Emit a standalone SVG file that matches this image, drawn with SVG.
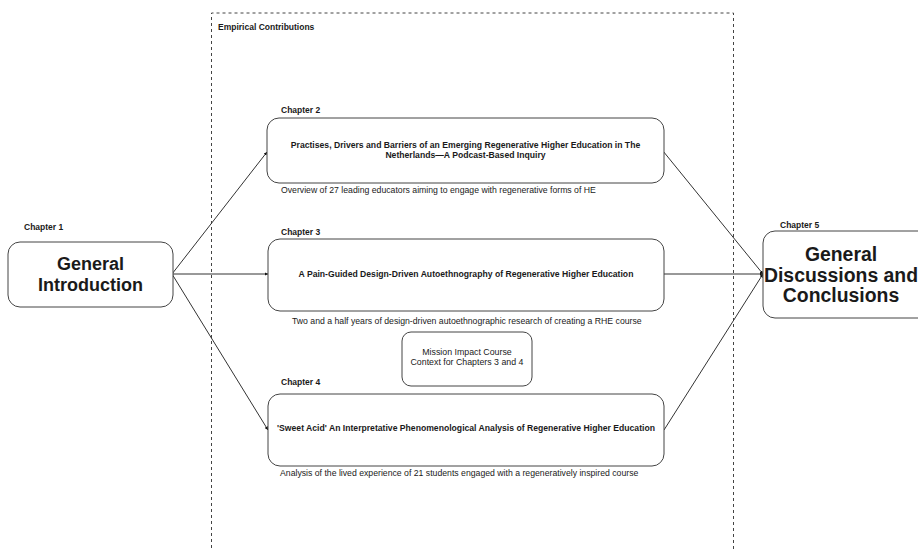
<svg xmlns="http://www.w3.org/2000/svg" width="918" height="550" viewBox="0 0 918 550">
<style>
text{font-family:"Liberation Sans",Arial,sans-serif;fill:#1a1a1a}
.lbl{font-size:8.5px;font-weight:bold}
.box{fill:#fff;stroke:#444;stroke-width:1}
.t{font-size:8.65px;font-weight:bold;text-anchor:middle}
.cap{font-size:8.7px}
.mid{font-size:8.8px;text-anchor:middle}
.big{font-size:18px;font-weight:bold;text-anchor:middle}
.big5{font-size:19.4px;font-weight:bold;text-anchor:middle}
.conn{stroke:#333;stroke-width:1;fill:none;marker-end:url(#ah)}
</style>
<defs>
<marker id="ah" viewBox="0 0 6 6" refX="6" refY="3" markerWidth="3.5" markerHeight="3.5" orient="auto" markerUnits="userSpaceOnUse">
<path d="M0,0 L6,3 L0,6 z" fill="#111"/>
</marker>
</defs>
<rect width="918" height="550" fill="#fff"/>
<g id="empirical">
<path d="M211.5,560 L211.5,13 L733.5,13 L733.5,560" fill="none" stroke="#444" stroke-width="1" stroke-dasharray="3,3"/>
<text class="lbl" x="218" y="30">Empirical Contributions</text>
</g>
<g id="connectors">
<line class="conn" x1="172" y1="274" x2="267" y2="152"/>
<line class="conn" x1="172" y1="274" x2="268" y2="274"/>
<line class="conn" x1="172" y1="274" x2="268" y2="430"/>
<line class="conn" x1="663" y1="151" x2="763" y2="274"/>
<line class="conn" x1="664" y1="274" x2="763" y2="274"/>
<line class="conn" x1="664" y1="430" x2="763" y2="274"/>
<circle cx="172" cy="274" r="1.2" fill="#111"/>
</g>
<g id="ch1">
<text class="lbl" x="24" y="230">Chapter 1</text>
<rect class="box" x="8" y="242" width="165" height="65" rx="12"/>
<text class="big" x="90.5" y="270">General</text>
<text class="big" x="90.5" y="291">Introduction</text>
</g>
<g id="ch2">
<text class="lbl" x="281" y="113">Chapter 2</text>
<rect class="box" x="267" y="118" width="397" height="65" rx="12"/>
<text class="t" x="465.5" y="148">Practises, Drivers and Barriers of an Emerging Regenerative Higher Education in The</text>
<text class="t" x="465.5" y="158">Netherlands—A Podcast-Based Inquiry</text>
<text class="cap" x="281" y="193">Overview of 27 leading educators aiming to engage with regenerative forms of HE</text>
</g>
<g id="ch3">
<text class="lbl" x="281" y="235">Chapter 3</text>
<rect class="box" x="268" y="239" width="396" height="72" rx="12"/>
<text class="t" x="466" y="277">A Pain-Guided Design-Driven Autoethnography of Regenerative Higher Education</text>
<text class="cap" x="292" y="324">Two and a half years of design-driven autoethnographic research of creating a RHE course</text>
</g>
<g id="mission">
<rect class="box" x="402" y="332" width="130" height="54" rx="9"/>
<text class="mid" x="467" y="355">Mission Impact Course</text>
<text class="mid" x="467" y="365">Context for Chapters 3 and 4</text>
</g>
<g id="ch4">
<text class="lbl" x="281" y="385">Chapter 4</text>
<rect class="box" x="268" y="394" width="396" height="72" rx="12"/>
<text class="t" x="466" y="431">'Sweet Acid' An Interpretative Phenomenological Analysis of Regenerative Higher Education</text>
<text class="cap" x="280" y="476">Analysis of the lived experience of 21 students engaged with a regeneratively inspired course</text>
</g>
<g id="ch5">
<text class="lbl" x="780" y="228">Chapter 5</text>
<rect class="box" x="763" y="231" width="170" height="87" rx="12"/>
<text class="big5" x="841" y="261">General</text>
<text class="big5" x="841" y="282">Discussions and</text>
<text class="big5" x="841" y="302">Conclusions</text>
</g>
</svg>
